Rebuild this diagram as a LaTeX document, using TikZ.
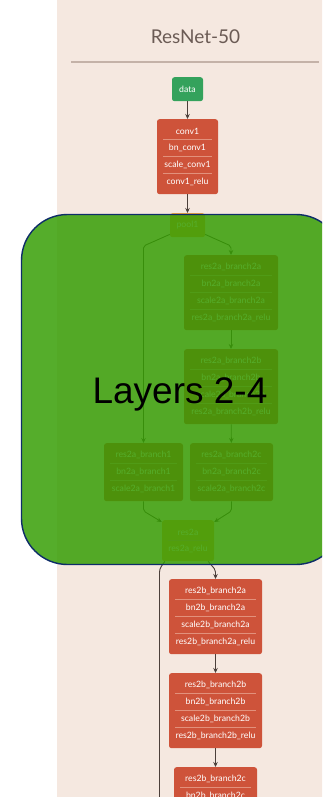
\documentclass[tikz,border=0pt]{standalone}
\usepackage{fontspec}
\setmainfont{Lato}
\newfontfamily\arialfont{Liberation Sans}
\usetikzlibrary{arrows.meta}
\definecolor{bgbeige}{HTML}{F5E8E0}
\definecolor{nodered}{HTML}{CE533A}
\definecolor{datagreen}{HTML}{34A25C}
\definecolor{poolorange}{HTML}{EFA23C}
\definecolor{edgegray}{HTML}{4B3F3A}
\definecolor{sepcol}{HTML}{E2917C}
\definecolor{titlegray}{HTML}{6B5B55}
\definecolor{rulegray}{HTML}{C4B2A8}
\definecolor{ovgreen}{RGB}{53,158,3}
\definecolor{ovnavy}{HTML}{0E2D68}
\tikzset{
  blockbox/.style={rectangle, rounded corners=2.5pt, inner sep=0pt, draw=none},
  rowtext/.style={text=white, font=\fontsize{8.7}{10}\selectfont, inner sep=0pt},
  sepline/.style={draw=sepcol, line width=0.6pt},
  edge/.style={draw=edgegray, line width=0.9pt, rounded corners=2pt, -{Stealth[length=5pt,width=4.5pt]}},
  plainedge/.style={draw=edgegray, line width=0.9pt, rounded corners=3pt},
}
\newcommand{\nblock}[7]{%
  \pgfmathsetmacro\bh{17*#6+7}%
  \node[blockbox, fill=#2, minimum width=#5pt, minimum height=\bh pt, anchor=north] (#1) at (#3,#4) {};
  \foreach \t [count=\i from 0] in {#7} {
    \node[rowtext] (#1-\i) at (#3,#4+12+17*\i) {\t};
  }
  \ifnum#6>1
    \foreach \j in {1,...,\numexpr#6-1\relax} {
      \draw[sepline] (#3-#5/2+6,#4+3.5+17*\j) -- (#3+#5/2-6,#4+3.5+17*\j);
    }
  \fi
}
\begin{document}
\begin{tikzpicture}[x=1pt,y=-1pt]
\useasboundingbox (0,0) rectangle (322,797);
\clip (0,0) rectangle (322,797);
\fill[white] (0,0) rectangle (322,797);
\fill[bgbeige] (57,0) rectangle (330,800);
% title
\node[anchor=base, text=titlegray, font=\fontsize{19}{22}\selectfont] (title) at (195.5,44) {ResNet-50};
\draw[rulegray, line width=1.2pt] (71,62) -- (319,62);
% nodes
\nblock{data}{datagreen}{187.5}{77}{31}{1}{data}
\nblock{conv1}{nodered}{187.5}{119}{61}{4}{conv1,bn\_conv1,scale\_conv1,conv1\_relu}
\nblock{pool1}{poolorange}{187.5}{213}{35}{1}{pool1}
\nblock{r2a2a}{nodered}{231}{255}{94}{4}{res2a\_branch2a,bn2a\_branch2a,scale2a\_branch2a,res2a\_branch2a\_relu}
\nblock{r2a2b}{nodered}{231}{349}{94}{4}{res2a\_branch2b,bn2a\_branch2b,scale2a\_branch2b,res2a\_branch2b\_relu}
\nblock{r2a1}{nodered}{143.5}{443}{79}{3}{res2a\_branch1,bn2a\_branch1,scale2a\_branch1}
\nblock{r2a2c}{nodered}{231.5}{443}{83}{3}{res2a\_branch2c,bn2a\_branch2c,scale2a\_branch2c}
\nblock{res2a}{poolorange}{188}{520}{52}{2}{res2a,res2a\_relu}
\nblock{r2b2a}{nodered}{215.5}{579}{93}{4}{res2b\_branch2a,bn2b\_branch2a,scale2b\_branch2a,res2b\_branch2a\_relu}
\nblock{r2b2b}{nodered}{215.5}{673}{93}{4}{res2b\_branch2b,bn2b\_branch2b,scale2b\_branch2b,res2b\_branch2b\_relu}
\nblock{r2b2c}{nodered}{215.5}{767}{83}{3}{res2b\_branch2c,bn2b\_branch2c,scale2b\_branch2c}
% edges
\draw[edge] (data) -- (conv1);
\draw[edge] (conv1) -- (pool1);
\draw[edge] ([yshift=3pt]pool1.south west) -- (r2a1.north |- 0,246) -- (r2a1.north);
\draw[edge] ([yshift=3pt]pool1.south east) -- (r2a2a.north |- 0,246) -- (r2a2a.north);
\draw[edge] (r2a2a) -- (r2a2b);
\draw[edge] (r2a2b) -- (r2a2c);
\draw[edge] (r2a1.south) -- (r2a1.south |- 0,511) -- ([yshift=-2pt]res2a.north west);
\draw[edge] (r2a2c.south) -- (r2a2c.south |- 0,511) -- ([yshift=-2pt]res2a.north east);
\coordinate (skipend) at (159.5,805);
\draw[plainedge] ([xshift=3pt]res2a.south west) -- (159.5,569) -- (skipend);
\draw[edge] ([xshift=-6pt]res2a.south east) -- (r2b2a.north |- 0,570) -- (r2b2a.north);
\draw[edge] (r2b2a) -- (r2b2b);
\draw[edge] (r2b2b) -- (r2b2c);
% overlay
\draw[draw=ovnavy, line width=1.4pt, fill=ovgreen, fill opacity=0.84, rounded corners=46pt] (21.5,214.5) rectangle (342,564.5);
\node[anchor=base, text=black, font=\arialfont\fontsize{37}{40}\selectfont] (layers) at (180,403) {Layers 2-4};
\end{tikzpicture}
\end{document}
